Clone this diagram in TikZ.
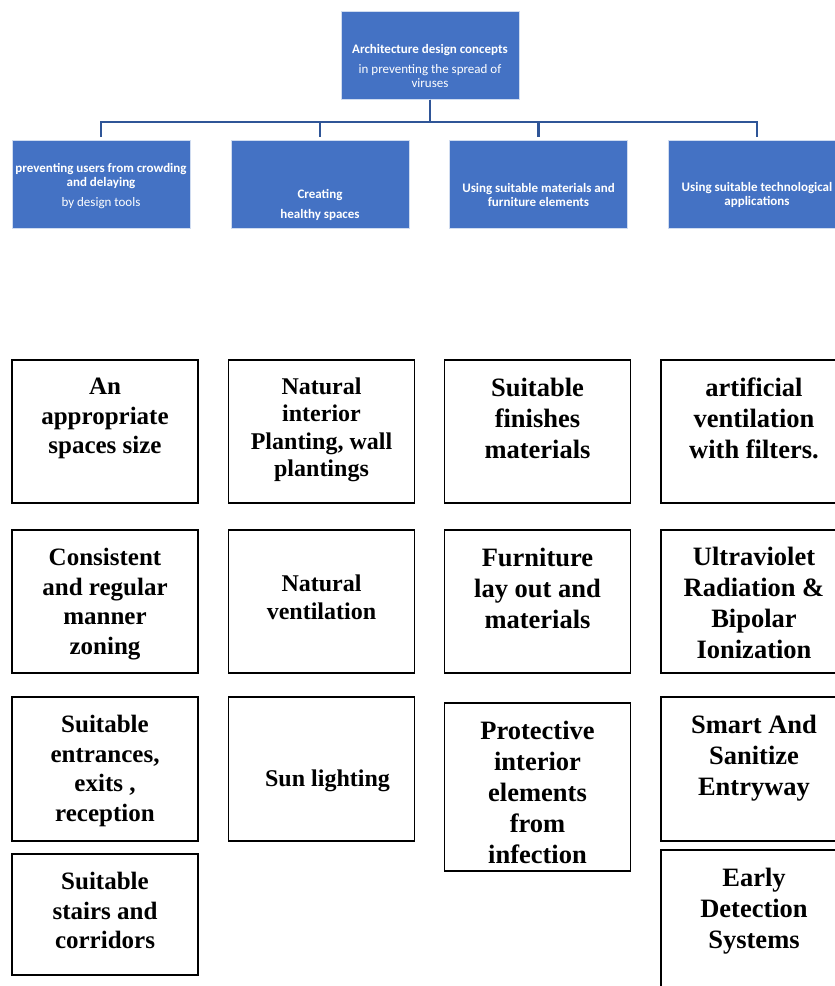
\documentclass[tikz,border=0pt]{standalone}
\usepackage{xcolor}
\usepackage{fontspec}
\setmainfont{Liberation Serif}
\newfontfamily\calibri{Carlito}
\usetikzlibrary{positioning}
\definecolor{conceptblue}{HTML}{4472C4}
\definecolor{linkblue}{HTML}{2F5597}
\tikzstyle{concept} = [rectangle, minimum width=178pt, minimum height=88pt, inner sep=0, align=center, fill=conceptblue, draw=white!75!conceptblue, text=white, font=\calibri\fontsize{13}{14}\selectfont]
\tikzstyle{item} = [rectangle, minimum width=186pt, minimum height=143pt, draw=black, line width=1.6pt]
\tikzstyle{itemtext} = [align=center, inner sep=0, font=\bfseries\fontsize{25}{29.5}\selectfont]
\tikzstyle{bigtext} = [itemtext, font=\bfseries\fontsize{26.5}{31}\selectfont]
\tikzstyle{link} = [linkblue, line width=2.2pt, shorten >=3pt]

\begin{document}
\begin{tikzpicture}[x=1pt, y=-1pt]
\useasboundingbox (0,0) rectangle (835,986);
\clip (0,0) rectangle (835,986);

\node (main) [concept] at (430,55.5) {\\[16pt]\textbf{Architecture design concepts}\\[6pt] in preventing the spread of\\ viruses};

\node (crowd) [concept] at (101,184) {\rule{0pt}{14pt}\textbf{preventing users from crowding}\\ \textbf{and delaying}\\[6pt] by design tools};
\node (healthy) [concept] at (320,184) {\\[38pt]\textbf{Creating}\\[6pt] \textbf{healthy spaces}};
\node (materials) [concept] at (538.5,184) {\\[18pt]\textbf{Using suitable materials and}\\ \textbf{furniture elements}};
\node (tech) [concept] at (757,184) {\\[18pt]\textbf{Using suitable technological}\\ \textbf{applications}};

\draw[link] (main.south) -- ++(0,22) -| (crowd.north);
\draw[link] (main.south) -- ++(0,22) -| (healthy.north);
\draw[link] (main.south) -- ++(0,22) -| (materials.north);
\draw[link] (main.south) -- ++(0,22) -| (tech.north);

% first column
\node (crowd_size) [item] at (105,431.5) {};
\node (crowd_zoning) [item] at (105,601.5) {};
\node (crowd_entrance) [item, minimum height=144pt] at (105,769) {};
\node (crowd_stairs) [item, minimum height=121pt] at (105,914.5) {};
\node [itemtext, below=19pt of crowd_size.north] {An\\appropriate\\spaces size};
\node [itemtext, below=19pt of crowd_zoning.north] {Consistent\\and regular\\manner\\zoning};
\node [itemtext, below=19pt of crowd_entrance.north] {Suitable\\entrances,\\exits ,\\reception};
\node [itemtext, below=19pt of crowd_stairs.north] {Suitable\\stairs and\\corridors};

% second column
\node (healthy_plant) [item] at (321.5,431.5) {};
\node (healthy_vent) [item] at (321.5,601.5) {};
\node (healthy_sun) [item, minimum height=144pt] at (321.5,769) {};
\node [itemtext, font=\bfseries\fontsize{24}{27.5}\selectfont, below=18pt of healthy_plant.north] {Natural\\interior\\Planting, wall\\plantings};
\node [itemtext, font=\bfseries\fontsize{24}{28}\selectfont, below=45pt of healthy_vent.north] {Natural\\ventilation};
\node [itemtext, font=\bfseries\fontsize{24}{28}\selectfont, below=73pt of healthy_sun.north, xshift=6pt] {Sun lighting};

% third column
\node (mat_finish) [item] at (537.5,431.5) {};
\node (mat_furniture) [item] at (537.5,601.5) {};
\node (mat_protect) [item, minimum height=168pt] at (537.5,787) {};
\node [bigtext, below=18.5pt of mat_finish.north] {Suitable\\finishes\\materials};
\node [bigtext, below=19pt of mat_furniture.north] {Furniture\\lay out and\\materials};
\node [bigtext, below=19pt of mat_protect.north] {Protective\\interior\\elements\\from\\infection};

% fourth column
\node (tech_vent) [item] at (754,431.5) {};
\node (tech_uv) [item] at (754,601.5) {};
\node (tech_entry) [item, minimum height=144pt] at (754,769) {};
\node (tech_detect) [item] at (754,921.5) {};
\node [bigtext, below=18pt of tech_vent.north] {artificial\\ventilation\\with filters.};
\node [bigtext, below=18pt of tech_uv.north] {Ultraviolet\\Radiation \&\\Bipolar\\Ionization};
\node [bigtext, below=19pt of tech_entry.north] {Smart And\\Sanitize\\Entryway};
\node [bigtext, below=19pt of tech_detect.north] {Early\\Detection\\Systems};
\end{tikzpicture}
\end{document}
